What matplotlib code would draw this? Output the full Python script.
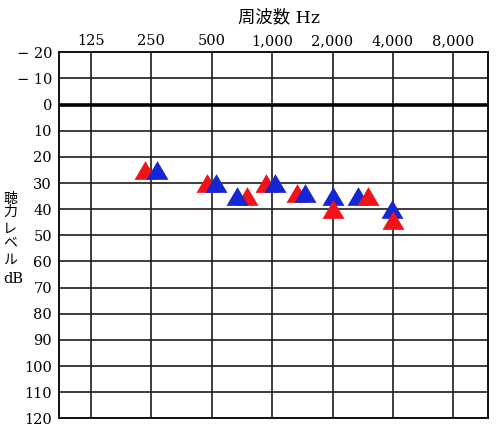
import matplotlib
matplotlib.use('Agg')
import matplotlib.pyplot as plt
import matplotlib.transforms as mtransforms
from matplotlib.ticker import FixedLocator, NullLocator

# ---------------- data ----------------
freq_ticks = [125, 250, 500, 1000, 2000, 4000, 8000]
freq_labels = ['125', '250', '500', '1,000', '2,000', '4,000', '8,000']
db_ticks = list(range(-20, 121, 10))
db_labels = ['\u2212 20', '\u2212 10'] + [str(v) for v in range(0, 121, 10)]

test_freqs = [250, 500, 750, 1000, 1500, 2000, 3000, 4000]
red_db = [25, 30, 35, 30, 34, 40, 35, 44]
blue_db = [25, 30, 35, 30, 34, 35, 35, 40]

title_text = '周波数 Hz'
ylabel_chars = ['聴', '力', 'レ', 'ベ', 'ル', 'dB']

# ---------------- style / layout ----------------
plt.rcParams['font.family'] = ['DejaVu Serif', 'Noto Sans CJK JP', 'DejaVu Sans']
RED = '#f21318'
BLUE = '#1626d4'
W, H = 500, 429
red_dx = [-6.5, -5, 0, -6, -10, 0, 0, 0]      # horizontal nudges in px
blue_dx = [5.5, 4.5, -10, 2.5, -2, 0, -10, -1]
red_on_top_from = 2000

fig = plt.figure(figsize=(W / 100, H / 100), dpi=100)
left, right, top, bottom = 59, 488.3, 52.3, 418.3
ax = fig.add_axes([left / W, 1 - bottom / H, (right - left) / W, (bottom - top) / H])

ax.set_xscale('log', base=2)
ax.set_xlim(86.6, 11960)
ax.set_ylim(120, -20)

ax.xaxis.set_major_locator(FixedLocator(freq_ticks))
ax.xaxis.set_minor_locator(NullLocator())
ax.set_xticklabels(freq_labels)
ax.xaxis.tick_top()
ax.set_yticks(db_ticks)
ax.set_yticklabels(db_labels)
ax.tick_params(axis='x', length=0, pad=3, labelsize=10.5)
ax.tick_params(axis='y', length=0, pad=5, labelsize=10.5)

ax.grid(True, color='#1c1c1c', linewidth=1.2, zorder=1)
ax.set_axisbelow(True)
ax.axhline(0, color='black', linewidth=2.6, zorder=2)
for s in ax.spines.values():
    s.set_linewidth(1.4)
    s.set_color('#111111')

tri = [(-1, -0.85), (1, -0.85), (0, 0.85)]
msize = 22 * 72 / 100

for f, v, dx in zip(test_freqs, red_db, red_dx):
    tr = ax.transData + mtransforms.ScaledTranslation(dx / 100, 0, fig.dpi_scale_trans)
    z = 6 if f >= red_on_top_from else 4
    ax.plot([f], [v], marker=tri, markersize=msize, color=RED, markeredgewidth=0,
            linestyle='none', transform=tr, zorder=z, clip_on=False)
for f, v, dx in zip(test_freqs, blue_db, blue_dx):
    tr = ax.transData + mtransforms.ScaledTranslation(dx / 100, 0, fig.dpi_scale_trans)
    ax.plot([f], [v], marker=tri, markersize=msize, color=BLUE, markeredgewidth=0,
            linestyle='none', transform=tr, zorder=5, clip_on=False)

fig.text(279.5 / W, 1 - 18.3 / H, title_text, ha='center', va='center', fontsize=12.5)

ylabel_pos = [(10, 198.7), (10, 212), (10, 228.3), (10.5, 242.7), (10, 260), (13, 279)]
for ch, (px, py) in zip(ylabel_chars, ylabel_pos):
    fs = 10.5 if ch == 'dB' else 10
    fig.text(px / W, 1 - py / H, ch, ha='center', va='center', fontsize=fs)

fig.savefig('out.png', dpi=100)
